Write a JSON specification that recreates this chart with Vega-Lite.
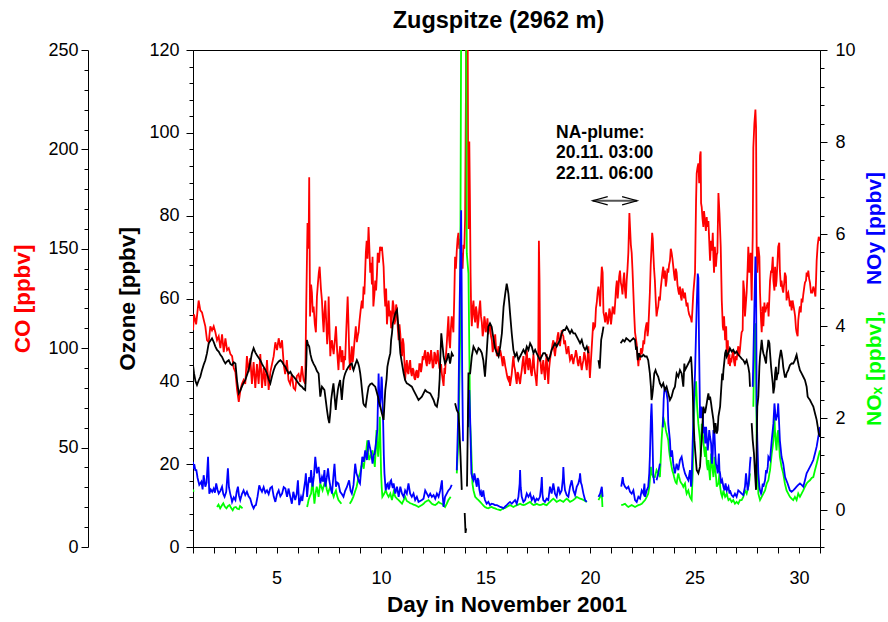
{
  "$schema": "https://vega.github.io/schema/vega-lite/v6.json",
  "width": 627,
  "height": 497,
  "autosize": {"type": "none"},
  "padding": {"left": 193, "top": 50, "right": 68, "bottom": 75},
  "config": {
    "font": "Liberation Sans",
    "view": {"stroke": "black", "strokeWidth": 1},
    "axis": {
      "grid": false,
      "domainColor": "black",
      "tickColor": "black",
      "labelColor": "black",
      "titleColor": "black",
      "labelFont": "Liberation Sans",
      "titleFont": "Liberation Sans",
      "labelFontSize": 18,
      "titleFontSize": 22.5,
      "titleFontWeight": "bold",
      "domainWidth": 1,
      "tickWidth": 1,
      "labelOverlap": false,
      "labelFlush": false
    }
  },
  "title": {
    "text": "Zugspitze (2962 m)",
    "font": "Liberation Sans",
    "fontSize": 23.5,
    "fontWeight": "bold",
    "color": "black",
    "anchor": "middle",
    "frame": "group",
    "dx": -8,
    "dy": 31,
    "offset": 21,
    "baseline": "alphabetic"
  },
  "datasets": {
    "co": [
      {"d":1.00,"v":109},{"d":1.05,"v":117},{"d":1.15,"v":112},{"d":1.27,"v":124},{"d":1.35,"v":119},{"d":1.43,"v":118},{"d":1.52,"v":114},{"d":1.59,"v":111},{"d":1.67,"v":104},{"d":1.75,"v":103},{"d":1.83,"v":111},{"d":1.91,"v":109},{"d":1.99,"v":111},{"d":2.07,"v":108},{"d":2.15,"v":104},{"d":2.23,"v":106},{"d":2.31,"v":100},{"d":2.39,"v":107},{"d":2.47,"v":98},{"d":2.55,"v":105},{"d":2.63,"v":99},{"d":2.71,"v":100},{"d":2.79,"v":97},{"d":2.87,"v":96},{"d":2.95,"v":90},{"d":3.03,"v":88},{"d":3.11,"v":79},{"d":3.19,"v":73},{"d":3.27,"v":79},{"d":3.34,"v":82},{"d":3.42,"v":84},{"d":3.50,"v":82},{"d":3.58,"v":96},{"d":3.66,"v":88},{"d":3.74,"v":95},{"d":3.82,"v":82},{"d":3.90,"v":93},{"d":3.98,"v":80},{"d":4.06,"v":92},{"d":4.14,"v":82},{"d":4.22,"v":97},{"d":4.30,"v":80},{"d":4.38,"v":90},{"d":4.46,"v":81},{"d":4.54,"v":94},{"d":4.62,"v":79},{"d":4.70,"v":88},{"d":4.78,"v":92},{"d":4.86,"v":96},{"d":4.94,"v":103},{"d":5.02,"v":99},{"d":5.10,"v":105},{"d":5.18,"v":100},{"d":5.26,"v":104},{"d":5.34,"v":92},{"d":5.41,"v":87},{"d":5.49,"v":94},{"d":5.57,"v":84},{"d":5.65,"v":82},{"d":5.73,"v":87},{"d":5.81,"v":80},{"d":5.89,"v":79},{"d":5.97,"v":86},{"d":6.05,"v":87},{"d":6.13,"v":83},{"d":6.21,"v":91},{"d":6.29,"v":84},{"d":6.37,"v":82},{"d":6.42,"v":123},{"d":6.48,"v":163},{"d":6.53,"v":150},{"d":6.56,"v":186},{"d":6.60,"v":116},{"d":6.65,"v":132},{"d":6.69,"v":128},{"d":6.73,"v":118},{"d":6.77,"v":121},{"d":6.83,"v":112},{"d":6.88,"v":108},{"d":6.93,"v":126},{"d":6.98,"v":133},{"d":7.02,"v":138},{"d":7.06,"v":141},{"d":7.12,"v":130},{"d":7.17,"v":124},{"d":7.21,"v":115},{"d":7.25,"v":108},{"d":7.29,"v":118},{"d":7.33,"v":124},{"d":7.38,"v":112},{"d":7.42,"v":102},{"d":7.46,"v":109},{"d":7.49,"v":126},{"d":7.53,"v":110},{"d":7.57,"v":96},{"d":7.61,"v":102},{"d":7.65,"v":104},{"d":7.69,"v":100},{"d":7.73,"v":97},{"d":7.78,"v":103},{"d":7.84,"v":111},{"d":7.90,"v":98},{"d":7.96,"v":89},{"d":8.00,"v":97},{"d":8.04,"v":101},{"d":8.10,"v":93},{"d":8.15,"v":99},{"d":8.20,"v":89},{"d":8.24,"v":96},{"d":8.28,"v":94},{"d":8.33,"v":108},{"d":8.40,"v":126},{"d":8.44,"v":112},{"d":8.48,"v":95},{"d":8.52,"v":89},{"d":8.56,"v":96},{"d":8.60,"v":101},{"d":8.64,"v":93},{"d":8.68,"v":97},{"d":8.73,"v":104},{"d":8.79,"v":111},{"d":8.84,"v":103},{"d":8.88,"v":106},{"d":8.92,"v":108},{"d":8.97,"v":114},{"d":9.02,"v":119},{"d":9.08,"v":124},{"d":9.12,"v":120},{"d":9.16,"v":131},{"d":9.20,"v":127},{"d":9.23,"v":136},{"d":9.27,"v":148},{"d":9.31,"v":154},{"d":9.35,"v":145},{"d":9.40,"v":161},{"d":9.44,"v":150},{"d":9.48,"v":138},{"d":9.52,"v":143},{"d":9.56,"v":132},{"d":9.59,"v":146},{"d":9.63,"v":121},{"d":9.68,"v":127},{"d":9.72,"v":134},{"d":9.76,"v":129},{"d":9.80,"v":137},{"d":9.84,"v":148},{"d":9.90,"v":143},{"d":9.95,"v":151},{"d":10.00,"v":149},{"d":10.04,"v":151},{"d":10.08,"v":146},{"d":10.12,"v":141},{"d":10.16,"v":128},{"d":10.20,"v":121},{"d":10.24,"v":130},{"d":10.28,"v":112},{"d":10.32,"v":118},{"d":10.36,"v":124},{"d":10.40,"v":116},{"d":10.44,"v":119},{"d":10.48,"v":110},{"d":10.52,"v":116},{"d":10.56,"v":124},{"d":10.60,"v":121},{"d":10.64,"v":112},{"d":10.68,"v":114},{"d":10.72,"v":122},{"d":10.76,"v":119},{"d":10.80,"v":110},{"d":10.84,"v":104},{"d":10.88,"v":112},{"d":10.92,"v":107},{"d":10.96,"v":100},{"d":11.00,"v":96},{"d":11.04,"v":105},{"d":11.08,"v":102},{"d":11.12,"v":92},{"d":11.15,"v":84},{"d":11.19,"v":90},{"d":11.23,"v":94},{"d":11.27,"v":88},{"d":11.31,"v":87},{"d":11.35,"v":92},{"d":11.39,"v":94},{"d":11.43,"v":88},{"d":11.47,"v":86},{"d":11.51,"v":90},{"d":11.55,"v":89},{"d":11.59,"v":85},{"d":11.63,"v":84},{"d":11.67,"v":88},{"d":11.71,"v":89},{"d":11.75,"v":85},{"d":11.79,"v":86},{"d":11.83,"v":92},{"d":11.87,"v":92},{"d":11.91,"v":88},{"d":11.95,"v":91},{"d":11.99,"v":96},{"d":12.03,"v":94},{"d":12.07,"v":97},{"d":12.11,"v":99},{"d":12.15,"v":93},{"d":12.19,"v":91},{"d":12.23,"v":98},{"d":12.27,"v":97},{"d":12.31,"v":92},{"d":12.35,"v":94},{"d":12.39,"v":99},{"d":12.43,"v":95},{"d":12.47,"v":90},{"d":12.51,"v":91},{"d":12.55,"v":98},{"d":12.59,"v":97},{"d":12.63,"v":92},{"d":12.67,"v":94},{"d":12.71,"v":99},{"d":12.75,"v":94},{"d":12.79,"v":90},{"d":12.83,"v":89},{"d":12.87,"v":92},{"d":12.91,"v":87},{"d":12.95,"v":84},{"d":12.99,"v":81},{"d":13.03,"v":90},{"d":13.06,"v":87},{"d":13.10,"v":96},{"d":13.14,"v":102},{"d":13.18,"v":109},{"d":13.22,"v":116},{"d":13.26,"v":104},{"d":13.30,"v":100},{"d":13.34,"v":110},{"d":13.38,"v":116},{"d":13.42,"v":112},{"d":13.46,"v":108},{"d":13.50,"v":125},{"d":13.54,"v":146},{"d":13.58,"v":140},{"d":13.62,"v":149},{"d":13.66,"v":155},{"d":13.70,"v":158},{"d":13.74,"v":150},{"d":13.78,"v":155},{"d":13.82,"v":146},{"d":13.86,"v":148},{"d":13.90,"v":140},{"d":13.94,"v":152},{"d":13.98,"v":150},{"d":14.02,"v":165},{"d":14.06,"v":230},{"d":14.08,"v":300},{"d":14.13,"v":300},{"d":14.16,"v":200},{"d":14.19,"v":160},{"d":14.22,"v":204},{"d":14.25,"v":175},{"d":14.28,"v":138},{"d":14.31,"v":118},{"d":14.34,"v":111},{"d":14.38,"v":120},{"d":14.42,"v":124},{"d":14.46,"v":116},{"d":14.50,"v":113},{"d":14.54,"v":121},{"d":14.58,"v":118},{"d":14.62,"v":110},{"d":14.66,"v":114},{"d":14.70,"v":120},{"d":14.74,"v":124},{"d":14.78,"v":116},{"d":14.82,"v":113},{"d":14.86,"v":106},{"d":14.90,"v":109},{"d":14.94,"v":116},{"d":14.97,"v":114},{"d":15.01,"v":108},{"d":15.05,"v":111},{"d":15.09,"v":115},{"d":15.13,"v":107},{"d":15.17,"v":110},{"d":15.22,"v":112},{"d":15.26,"v":106},{"d":15.30,"v":104},{"d":15.34,"v":98},{"d":15.38,"v":101},{"d":15.42,"v":104},{"d":15.46,"v":107},{"d":15.50,"v":100},{"d":15.54,"v":96},{"d":15.58,"v":98},{"d":15.62,"v":101},{"d":15.66,"v":96},{"d":15.70,"v":99},{"d":15.74,"v":97},{"d":15.78,"v":94},{"d":15.82,"v":91},{"d":15.86,"v":96},{"d":15.90,"v":94},{"d":15.94,"v":91},{"d":15.98,"v":89},{"d":16.01,"v":87},{"d":16.05,"v":85},{"d":16.09,"v":84},{"d":16.13,"v":86},{"d":16.17,"v":81},{"d":16.21,"v":84},{"d":16.25,"v":87},{"d":16.29,"v":92},{"d":16.33,"v":96},{"d":16.37,"v":91},{"d":16.41,"v":89},{"d":16.45,"v":85},{"d":16.49,"v":82},{"d":16.53,"v":88},{"d":16.57,"v":87},{"d":16.61,"v":84},{"d":16.65,"v":82},{"d":16.69,"v":86},{"d":16.73,"v":89},{"d":16.77,"v":93},{"d":16.81,"v":96},{"d":16.85,"v":90},{"d":16.89,"v":87},{"d":16.93,"v":94},{"d":16.97,"v":99},{"d":17.01,"v":92},{"d":17.05,"v":89},{"d":17.09,"v":95},{"d":17.13,"v":94},{"d":17.17,"v":88},{"d":17.21,"v":86},{"d":17.25,"v":92},{"d":17.29,"v":97},{"d":17.33,"v":90},{"d":17.37,"v":87},{"d":17.41,"v":84},{"d":17.44,"v":81},{"d":17.48,"v":90},{"d":17.52,"v":97},{"d":17.55,"v":154},{"d":17.58,"v":134},{"d":17.61,"v":96},{"d":17.65,"v":90},{"d":17.68,"v":87},{"d":17.72,"v":91},{"d":17.76,"v":94},{"d":17.80,"v":88},{"d":17.84,"v":84},{"d":17.88,"v":92},{"d":17.92,"v":97},{"d":17.96,"v":88},{"d":18.00,"v":82},{"d":18.04,"v":90},{"d":18.08,"v":94},{"d":18.12,"v":97},{"d":18.16,"v":99},{"d":18.20,"v":102},{"d":18.24,"v":104},{"d":18.28,"v":99},{"d":18.32,"v":96},{"d":18.36,"v":100},{"d":18.40,"v":102},{"d":18.44,"v":106},{"d":18.48,"v":108},{"d":18.52,"v":104},{"d":18.56,"v":101},{"d":18.60,"v":105},{"d":18.64,"v":109},{"d":18.68,"v":107},{"d":18.72,"v":106},{"d":18.76,"v":102},{"d":18.80,"v":104},{"d":18.84,"v":100},{"d":18.88,"v":97},{"d":18.92,"v":99},{"d":18.96,"v":101},{"d":19.00,"v":97},{"d":19.04,"v":94},{"d":19.08,"v":95},{"d":19.12,"v":97},{"d":19.16,"v":94},{"d":19.20,"v":92},{"d":19.24,"v":95},{"d":19.28,"v":96},{"d":19.32,"v":99},{"d":19.36,"v":97},{"d":19.40,"v":93},{"d":19.44,"v":91},{"d":19.48,"v":94},{"d":19.52,"v":96},{"d":19.56,"v":92},{"d":19.60,"v":89},{"d":19.64,"v":92},{"d":19.68,"v":94},{"d":19.72,"v":98},{"d":19.76,"v":96},{"d":19.80,"v":92},{"d":19.84,"v":89},{"d":19.88,"v":95},{"d":19.92,"v":101},{"d":19.96,"v":92},{"d":19.99,"v":85},{"d":20.03,"v":92},{"d":20.07,"v":99},{"d":20.11,"v":106},{"d":20.15,"v":113},{"d":20.19,"v":110},{"d":20.24,"v":111},{"d":20.28,"v":120},{"d":20.32,"v":123},{"d":20.36,"v":128},{"d":20.40,"v":131},{"d":20.44,"v":127},{"d":20.48,"v":121},{"d":20.52,"v":132},{"d":20.56,"v":141},{"d":20.60,"v":138},{"d":20.64,"v":118},{"d":20.68,"v":116},{"d":20.72,"v":113},{"d":20.76,"v":118},{"d":20.80,"v":116},{"d":20.84,"v":112},{"d":20.88,"v":114},{"d":20.92,"v":120},{"d":20.96,"v":118},{"d":21.00,"v":112},{"d":21.04,"v":116},{"d":21.08,"v":121},{"d":21.12,"v":119},{"d":21.16,"v":117},{"d":21.20,"v":123},{"d":21.24,"v":130},{"d":21.28,"v":134},{"d":21.32,"v":125},{"d":21.35,"v":129},{"d":21.39,"v":136},{"d":21.43,"v":139},{"d":21.47,"v":133},{"d":21.51,"v":131},{"d":21.55,"v":127},{"d":21.59,"v":134},{"d":21.63,"v":138},{"d":21.67,"v":129},{"d":21.71,"v":125},{"d":21.75,"v":134},{"d":21.79,"v":140},{"d":21.83,"v":148},{"d":21.86,"v":160},{"d":21.88,"v":168},{"d":21.91,"v":161},{"d":21.95,"v":152},{"d":21.99,"v":148},{"d":22.03,"v":139},{"d":22.07,"v":128},{"d":22.11,"v":117},{"d":22.15,"v":108},{"d":22.19,"v":105},{"d":22.23,"v":102},{"d":22.27,"v":96},{"d":22.31,"v":91},{"d":22.35,"v":97},{"d":22.39,"v":94},{"d":22.43,"v":100},{"d":22.47,"v":97},{"d":22.51,"v":99},{"d":22.55,"v":104},{"d":22.59,"v":102},{"d":22.63,"v":108},{"d":22.67,"v":111},{"d":22.71,"v":113},{"d":22.75,"v":106},{"d":22.78,"v":109},{"d":22.82,"v":118},{"d":22.86,"v":128},{"d":22.90,"v":142},{"d":22.94,"v":151},{"d":22.97,"v":158},{"d":23.00,"v":155},{"d":23.02,"v":149},{"d":23.06,"v":140},{"d":23.10,"v":134},{"d":23.14,"v":124},{"d":23.18,"v":116},{"d":23.22,"v":119},{"d":23.26,"v":121},{"d":23.30,"v":126},{"d":23.34,"v":124},{"d":23.38,"v":130},{"d":23.42,"v":134},{"d":23.46,"v":138},{"d":23.50,"v":141},{"d":23.54,"v":135},{"d":23.58,"v":139},{"d":23.62,"v":131},{"d":23.66,"v":134},{"d":23.70,"v":140},{"d":23.74,"v":138},{"d":23.78,"v":142},{"d":23.82,"v":144},{"d":23.86,"v":150},{"d":23.90,"v":148},{"d":23.94,"v":145},{"d":23.98,"v":141},{"d":24.02,"v":137},{"d":24.06,"v":134},{"d":24.10,"v":140},{"d":24.14,"v":138},{"d":24.18,"v":132},{"d":24.22,"v":129},{"d":24.26,"v":127},{"d":24.30,"v":131},{"d":24.34,"v":126},{"d":24.38,"v":124},{"d":24.42,"v":130},{"d":24.46,"v":128},{"d":24.50,"v":125},{"d":24.54,"v":128},{"d":24.58,"v":124},{"d":24.62,"v":121},{"d":24.66,"v":123},{"d":24.70,"v":119},{"d":24.74,"v":117},{"d":24.78,"v":116},{"d":24.82,"v":115},{"d":24.86,"v":113},{"d":24.90,"v":120},{"d":24.94,"v":128},{"d":24.98,"v":133},{"d":25.02,"v":138},{"d":25.05,"v":160},{"d":25.07,"v":174},{"d":25.10,"v":188},{"d":25.14,"v":191},{"d":25.18,"v":193},{"d":25.22,"v":183},{"d":25.26,"v":197},{"d":25.29,"v":199},{"d":25.31,"v":173},{"d":25.34,"v":171},{"d":25.38,"v":165},{"d":25.42,"v":161},{"d":25.45,"v":169},{"d":25.50,"v":164},{"d":25.54,"v":159},{"d":25.58,"v":166},{"d":25.61,"v":161},{"d":25.66,"v":164},{"d":25.70,"v":154},{"d":25.74,"v":144},{"d":25.79,"v":154},{"d":25.83,"v":149},{"d":25.87,"v":158},{"d":25.90,"v":146},{"d":25.93,"v":138},{"d":25.97,"v":151},{"d":26.02,"v":141},{"d":26.06,"v":147},{"d":26.09,"v":148},{"d":26.14,"v":178},{"d":26.19,"v":168},{"d":26.25,"v":151},{"d":26.30,"v":124},{"d":26.35,"v":111},{"d":26.38,"v":109},{"d":26.41,"v":116},{"d":26.46,"v":104},{"d":26.51,"v":111},{"d":26.54,"v":96},{"d":26.59,"v":104},{"d":26.62,"v":92},{"d":26.67,"v":97},{"d":26.69,"v":91},{"d":26.73,"v":95},{"d":26.77,"v":94},{"d":26.81,"v":97},{"d":26.85,"v":99},{"d":26.89,"v":93},{"d":26.93,"v":91},{"d":26.97,"v":96},{"d":27.01,"v":94},{"d":27.05,"v":98},{"d":27.09,"v":101},{"d":27.13,"v":96},{"d":27.17,"v":99},{"d":27.21,"v":104},{"d":27.25,"v":108},{"d":27.30,"v":109},{"d":27.33,"v":134},{"d":27.38,"v":128},{"d":27.41,"v":116},{"d":27.45,"v":122},{"d":27.49,"v":128},{"d":27.54,"v":141},{"d":27.57,"v":151},{"d":27.62,"v":138},{"d":27.65,"v":141},{"d":27.68,"v":148},{"d":27.73,"v":124},{"d":27.78,"v":156},{"d":27.81,"v":201},{"d":27.86,"v":213},{"d":27.91,"v":220},{"d":27.94,"v":211},{"d":27.97,"v":151},{"d":28.00,"v":138},{"d":28.05,"v":151},{"d":28.10,"v":146},{"d":28.13,"v":128},{"d":28.18,"v":114},{"d":28.21,"v":108},{"d":28.26,"v":121},{"d":28.29,"v":111},{"d":28.34,"v":123},{"d":28.38,"v":118},{"d":28.42,"v":120},{"d":28.45,"v":121},{"d":28.50,"v":123},{"d":28.54,"v":116},{"d":28.58,"v":126},{"d":28.61,"v":134},{"d":28.66,"v":139},{"d":28.69,"v":138},{"d":28.74,"v":146},{"d":28.77,"v":134},{"d":28.82,"v":129},{"d":28.85,"v":141},{"d":28.89,"v":131},{"d":28.92,"v":134},{"d":28.97,"v":144},{"d":29.00,"v":151},{"d":29.05,"v":153},{"d":29.08,"v":139},{"d":29.13,"v":131},{"d":29.16,"v":134},{"d":29.20,"v":130},{"d":29.24,"v":128},{"d":29.29,"v":133},{"d":29.32,"v":138},{"d":29.37,"v":136},{"d":29.40,"v":124},{"d":29.44,"v":127},{"d":29.48,"v":128},{"d":29.52,"v":125},{"d":29.56,"v":121},{"d":29.60,"v":124},{"d":29.64,"v":119},{"d":29.69,"v":124},{"d":29.72,"v":122},{"d":29.77,"v":119},{"d":29.81,"v":116},{"d":29.85,"v":110},{"d":29.88,"v":108},{"d":29.93,"v":106},{"d":29.96,"v":114},{"d":30.01,"v":119},{"d":30.04,"v":121},{"d":30.08,"v":118},{"d":30.12,"v":125},{"d":30.16,"v":123},{"d":30.20,"v":127},{"d":30.25,"v":131},{"d":30.28,"v":133},{"d":30.33,"v":134},{"d":30.36,"v":138},{"d":30.41,"v":136},{"d":30.44,"v":139},{"d":30.48,"v":135},{"d":30.52,"v":133},{"d":30.57,"v":128},{"d":30.63,"v":128},{"d":30.68,"v":131},{"d":30.73,"v":129},{"d":30.78,"v":126},{"d":30.81,"v":134},{"d":30.84,"v":144},{"d":30.89,"v":152},{"d":30.94,"v":156},{"d":31.00,"v":154}
    ],
    "o3": [
      {"d":1.00,"v":43.9},{"d":1.05,"v":41.9},{"d":1.12,"v":40.0},{"d":1.19,"v":39.1},{"d":1.27,"v":40.2},{"d":1.35,"v":41.1},{"d":1.43,"v":42.7},{"d":1.51,"v":44.0},{"d":1.59,"v":45.1},{"d":1.67,"v":46.8},{"d":1.75,"v":49.2},{"d":1.83,"v":49.8},{"d":1.91,"v":50.4},{"d":1.99,"v":49.5},{"d":2.07,"v":48.4},{"d":2.15,"v":47.6},{"d":2.23,"v":47.2},{"d":2.31,"v":46.4},{"d":2.39,"v":45.9},{"d":2.47,"v":45.0},{"d":2.55,"v":44.3},{"d":2.63,"v":44.8},{"d":2.71,"v":45.1},{"d":2.79,"v":44.2},{"d":2.87,"v":43.9},{"d":2.95,"v":44.6},{"d":3.03,"v":44.3},{"d":3.11,"v":40.0},{"d":3.19,"v":37.1},{"d":3.27,"v":37.8},{"d":3.34,"v":38.7},{"d":3.42,"v":39.6},{"d":3.50,"v":40.3},{"d":3.58,"v":41.5},{"d":3.66,"v":42.7},{"d":3.74,"v":44.6},{"d":3.82,"v":46.8},{"d":3.90,"v":48.0},{"d":3.98,"v":47.0},{"d":4.06,"v":46.3},{"d":4.14,"v":45.7},{"d":4.22,"v":45.1},{"d":4.30,"v":44.2},{"d":4.38,"v":43.5},{"d":4.46,"v":42.8},{"d":4.54,"v":41.9},{"d":4.62,"v":40.5},{"d":4.70,"v":39.5},{"d":4.78,"v":41.2},{"d":4.86,"v":42.7},{"d":4.94,"v":43.8},{"d":5.02,"v":44.3},{"d":5.10,"v":44.8},{"d":5.18,"v":45.1},{"d":5.26,"v":44.7},{"d":5.34,"v":44.0},{"d":5.42,"v":43.5},{"d":5.50,"v":42.6},{"d":5.58,"v":41.9},{"d":5.66,"v":42.3},{"d":5.74,"v":41.5},{"d":5.82,"v":41.1},{"d":5.90,"v":40.6},{"d":5.98,"v":40.0},{"d":6.05,"v":39.5},{"d":6.13,"v":39.0},{"d":6.21,"v":38.7},{"d":6.29,"v":38.2},{"d":6.37,"v":37.9},{"d":6.42,"v":44.0},{"d":6.45,"v":50.0},{"d":6.50,"v":49.0},{"d":6.56,"v":48.4},{"d":6.62,"v":46.5},{"d":6.69,"v":45.1},{"d":6.77,"v":44.2},{"d":6.85,"v":43.5},{"d":6.93,"v":42.5},{"d":7.01,"v":41.9},{"d":7.09,"v":36.3},{"d":7.17,"v":38.7},{"d":7.23,"v":38.3},{"d":7.29,"v":37.9},{"d":7.35,"v":35.5},{"d":7.41,"v":33.1},{"d":7.47,"v":31.0},{"d":7.52,"v":29.9},{"d":7.57,"v":32.5},{"d":7.61,"v":35.5},{"d":7.67,"v":37.8},{"d":7.72,"v":39.5},{"d":7.78,"v":36.0},{"d":7.83,"v":33.1},{"d":7.88,"v":35.8},{"d":7.93,"v":37.9},{"d":7.98,"v":39.2},{"d":8.04,"v":40.3},{"d":8.08,"v":37.9},{"d":8.12,"v":35.5},{"d":8.16,"v":38.0},{"d":8.20,"v":40.3},{"d":8.24,"v":41.2},{"d":8.28,"v":41.9},{"d":8.36,"v":42.8},{"d":8.44,"v":43.5},{"d":8.52,"v":44.0},{"d":8.60,"v":44.3},{"d":8.64,"v":43.3},{"d":8.68,"v":42.7},{"d":8.76,"v":44.0},{"d":8.84,"v":45.1},{"d":8.90,"v":44.4},{"d":8.95,"v":43.5},{"d":9.00,"v":42.0},{"d":9.04,"v":40.3},{"d":9.10,"v":37.2},{"d":9.15,"v":34.7},{"d":9.20,"v":34.2},{"d":9.26,"v":33.9},{"d":9.33,"v":36.5},{"d":9.40,"v":38.7},{"d":9.48,"v":39.3},{"d":9.56,"v":39.5},{"d":9.64,"v":39.1},{"d":9.72,"v":38.7},{"d":9.78,"v":37.6},{"d":9.85,"v":36.3},{"d":9.90,"v":35.0},{"d":9.96,"v":33.9},{"d":10.04,"v":32.2},{"d":10.12,"v":30.7},{"d":10.16,"v":34.5},{"d":10.20,"v":37.9},{"d":10.26,"v":40.5},{"d":10.30,"v":43.5},{"d":10.36,"v":45.1},{"d":10.44,"v":46.8},{"d":10.48,"v":50.0},{"d":10.52,"v":51.6},{"d":10.56,"v":54.0},{"d":10.62,"v":55.2},{"d":10.68,"v":56.4},{"d":10.76,"v":57.2},{"d":10.84,"v":52.4},{"d":10.92,"v":46.8},{"d":11.00,"v":44.3},{"d":11.08,"v":41.9},{"d":11.15,"v":40.3},{"d":11.23,"v":39.5},{"d":11.31,"v":39.3},{"d":11.39,"v":39.0},{"d":11.47,"v":38.7},{"d":11.55,"v":37.9},{"d":11.63,"v":37.1},{"d":11.71,"v":36.3},{"d":11.79,"v":35.5},{"d":11.87,"v":35.9},{"d":11.95,"v":36.3},{"d":12.03,"v":37.1},{"d":12.11,"v":37.9},{"d":12.19,"v":37.5},{"d":12.27,"v":37.3},{"d":12.35,"v":37.1},{"d":12.43,"v":36.3},{"d":12.51,"v":35.5},{"d":12.59,"v":34.3},{"d":12.67,"v":33.9},{"d":12.75,"v":36.3},{"d":12.80,"v":40.5},{"d":12.83,"v":45.1},{"d":12.88,"v":51.6},{"d":12.91,"v":50.0},{"d":12.95,"v":48.0},{"d":12.99,"v":46.0},{"d":13.06,"v":44.3},{"d":13.14,"v":45.1},{"d":13.22,"v":46.8},{"d":13.30,"v":44.3},{"d":13.38,"v":46.8},{"d":13.46,"v":46.0},{"d":13.50,"v":null},{"d":13.54,"v":34.7},{"d":13.62,"v":33.1},{"d":13.70,"v":32.3},{"d":13.73,"v":29.9},{"d":13.80,"v":22.0},{"d":13.86,"v":13.8},{"d":13.93,"v":null},{"d":14.00,"v":8.2},{"d":14.04,"v":3.4},{"d":14.07,"v":4.5},{"d":14.09,"v":null},{"d":14.11,"v":14.6},{"d":14.15,"v":30.0},{"d":14.18,"v":41.9},{"d":14.26,"v":41.9},{"d":14.34,"v":46.0},{"d":14.42,"v":48.4},{"d":14.50,"v":47.6},{"d":14.58,"v":46.8},{"d":14.66,"v":48.0},{"d":14.74,"v":47.6},{"d":14.82,"v":46.8},{"d":14.89,"v":45.1},{"d":14.97,"v":41.1},{"d":15.05,"v":46.8},{"d":15.13,"v":53.2},{"d":15.21,"v":54.0},{"d":15.29,"v":53.2},{"d":15.37,"v":50.5},{"d":15.45,"v":48.0},{"d":15.54,"v":46.8},{"d":15.62,"v":46.0},{"d":15.70,"v":48.4},{"d":15.78,"v":51.6},{"d":15.86,"v":58.0},{"d":15.94,"v":61.2},{"d":16.01,"v":63.6},{"d":16.05,"v":62.5},{"d":16.09,"v":61.2},{"d":16.13,"v":59.0},{"d":16.17,"v":56.4},{"d":16.25,"v":51.6},{"d":16.33,"v":47.6},{"d":16.41,"v":46.0},{"d":16.49,"v":46.8},{"d":16.57,"v":45.1},{"d":16.65,"v":46.0},{"d":16.73,"v":46.8},{"d":16.81,"v":47.6},{"d":16.89,"v":46.8},{"d":16.97,"v":48.4},{"d":17.05,"v":47.6},{"d":17.13,"v":49.2},{"d":17.21,"v":48.4},{"d":17.29,"v":46.8},{"d":17.37,"v":47.6},{"d":17.44,"v":46.8},{"d":17.52,"v":46.0},{"d":17.60,"v":45.1},{"d":17.68,"v":46.0},{"d":17.76,"v":46.8},{"d":17.84,"v":46.8},{"d":17.92,"v":46.0},{"d":18.00,"v":45.1},{"d":18.08,"v":46.0},{"d":18.16,"v":47.6},{"d":18.24,"v":48.4},{"d":18.32,"v":49.2},{"d":18.40,"v":48.4},{"d":18.48,"v":49.2},{"d":18.56,"v":50.0},{"d":18.64,"v":51.6},{"d":18.72,"v":52.4},{"d":18.80,"v":52.4},{"d":18.88,"v":53.2},{"d":18.96,"v":52.4},{"d":19.04,"v":51.6},{"d":19.12,"v":52.4},{"d":19.20,"v":51.6},{"d":19.28,"v":51.6},{"d":19.36,"v":50.8},{"d":19.44,"v":50.0},{"d":19.52,"v":49.2},{"d":19.60,"v":50.0},{"d":19.68,"v":48.4},{"d":19.76,"v":47.6},{"d":19.84,"v":48.4},{"d":19.92,"v":46.8},{"d":19.96,"v":null},{"d":20.40,"v":45.1},{"d":20.46,"v":43.1},{"d":20.53,"v":50.0},{"d":20.59,"v":51.6},{"d":20.64,"v":53.2},{"d":20.70,"v":null},{"d":21.46,"v":49.2},{"d":21.57,"v":50.0},{"d":21.65,"v":49.6},{"d":21.73,"v":50.4},{"d":21.83,"v":50.0},{"d":21.91,"v":49.6},{"d":21.99,"v":50.0},{"d":22.07,"v":50.4},{"d":22.15,"v":50.0},{"d":22.20,"v":47.6},{"d":22.23,"v":48.4},{"d":22.28,"v":45.1},{"d":22.34,"v":46.8},{"d":22.39,"v":46.0},{"d":22.47,"v":46.0},{"d":22.55,"v":46.4},{"d":22.63,"v":46.0},{"d":22.71,"v":46.0},{"d":22.78,"v":45.1},{"d":22.86,"v":41.9},{"d":22.91,"v":38.7},{"d":22.94,"v":35.5},{"d":22.97,"v":36.3},{"d":23.02,"v":38.7},{"d":23.07,"v":41.9},{"d":23.13,"v":42.7},{"d":23.18,"v":41.9},{"d":23.26,"v":41.1},{"d":23.34,"v":39.5},{"d":23.42,"v":38.7},{"d":23.50,"v":39.5},{"d":23.58,"v":37.9},{"d":23.66,"v":38.7},{"d":23.74,"v":37.1},{"d":23.82,"v":35.5},{"d":23.90,"v":36.3},{"d":23.98,"v":37.9},{"d":24.06,"v":38.7},{"d":24.14,"v":41.9},{"d":24.22,"v":41.1},{"d":24.30,"v":42.7},{"d":24.38,"v":41.9},{"d":24.46,"v":38.7},{"d":24.51,"v":44.3},{"d":24.54,"v":42.7},{"d":24.62,"v":43.5},{"d":24.70,"v":44.3},{"d":24.78,"v":45.1},{"d":24.83,"v":46.0},{"d":24.86,"v":43.5},{"d":24.91,"v":37.9},{"d":24.94,"v":31.5},{"d":24.99,"v":25.8},{"d":25.05,"v":21.8},{"d":25.10,"v":18.6},{"d":25.18,"v":17.8},{"d":25.26,"v":19.4},{"d":25.30,"v":23.0},{"d":25.34,"v":25.8},{"d":25.38,"v":30.0},{"d":25.42,"v":33.9},{"d":25.46,"v":33.0},{"d":25.50,"v":32.3},{"d":25.54,"v":33.5},{"d":25.58,"v":34.7},{"d":25.62,"v":36.0},{"d":25.66,"v":37.1},{"d":25.70,"v":35.5},{"d":25.74,"v":36.3},{"d":25.79,"v":34.7},{"d":25.83,"v":33.1},{"d":25.90,"v":30.7},{"d":25.95,"v":27.4},{"d":26.00,"v":29.9},{"d":26.06,"v":27.4},{"d":26.10,"v":28.2},{"d":26.14,"v":31.5},{"d":26.22,"v":33.9},{"d":26.27,"v":37.9},{"d":26.32,"v":41.9},{"d":26.35,"v":40.3},{"d":26.38,"v":42.7},{"d":26.43,"v":45.1},{"d":26.46,"v":46.8},{"d":26.51,"v":47.6},{"d":26.54,"v":46.0},{"d":26.62,"v":46.8},{"d":26.67,"v":47.6},{"d":26.69,"v":48.0},{"d":26.77,"v":47.2},{"d":26.85,"v":47.6},{"d":26.93,"v":46.8},{"d":27.01,"v":47.2},{"d":27.09,"v":46.4},{"d":27.17,"v":46.0},{"d":27.25,"v":45.5},{"d":27.33,"v":45.1},{"d":27.41,"v":44.3},{"d":27.49,"v":45.1},{"d":27.57,"v":43.5},{"d":27.62,"v":41.9},{"d":27.65,"v":38.7},{"d":27.68,"v":null},{"d":27.73,"v":29.9},{"d":27.78,"v":25.8},{"d":27.84,"v":22.6},{"d":27.89,"v":17.8},{"d":27.94,"v":13.8},{"d":27.97,"v":24.2},{"d":28.00,"v":33.9},{"d":28.05,"v":36.3},{"d":28.10,"v":43.5},{"d":28.13,"v":46.0},{"d":28.18,"v":48.4},{"d":28.21,"v":50.0},{"d":28.26,"v":47.6},{"d":28.29,"v":46.8},{"d":28.34,"v":46.0},{"d":28.38,"v":45.1},{"d":28.42,"v":44.3},{"d":28.45,"v":46.8},{"d":28.50,"v":48.4},{"d":28.53,"v":50.0},{"d":28.58,"v":49.2},{"d":28.61,"v":46.8},{"d":28.66,"v":43.5},{"d":28.69,"v":41.9},{"d":28.74,"v":39.5},{"d":28.77,"v":37.1},{"d":28.82,"v":38.7},{"d":28.85,"v":41.9},{"d":28.89,"v":43.5},{"d":28.92,"v":40.3},{"d":28.97,"v":41.9},{"d":29.00,"v":41.9},{"d":29.05,"v":45.1},{"d":29.08,"v":46.0},{"d":29.13,"v":47.6},{"d":29.16,"v":46.8},{"d":29.21,"v":45.1},{"d":29.24,"v":43.5},{"d":29.29,"v":41.9},{"d":29.32,"v":41.1},{"d":29.37,"v":41.1},{"d":29.40,"v":41.9},{"d":29.48,"v":42.7},{"d":29.56,"v":43.9},{"d":29.64,"v":44.3},{"d":29.72,"v":44.3},{"d":29.80,"v":45.1},{"d":29.85,"v":46.0},{"d":29.88,"v":46.4},{"d":29.93,"v":45.1},{"d":29.98,"v":43.9},{"d":30.04,"v":42.7},{"d":30.12,"v":41.9},{"d":30.20,"v":41.1},{"d":30.28,"v":40.3},{"d":30.36,"v":38.7},{"d":30.41,"v":36.3},{"d":30.46,"v":35.9},{"d":30.52,"v":35.5},{"d":30.60,"v":34.7},{"d":30.68,"v":33.9},{"d":30.76,"v":32.3},{"d":30.84,"v":30.7},{"d":30.89,"v":29.1},{"d":30.94,"v":27.4},{"d":31.00,"v":26.6}
    ],
    "noy": [
      {"d":1.00,"v":1.05},{"d":1.03,"v":0.90},{"d":1.06,"v":1.00},{"d":1.11,"v":0.87},{"d":1.16,"v":0.87},{"d":1.22,"v":0.70},{"d":1.30,"v":0.55},{"d":1.40,"v":0.62},{"d":1.46,"v":0.45},{"d":1.51,"v":0.76},{"d":1.59,"v":0.51},{"d":1.65,"v":0.60},{"d":1.72,"v":1.16},{"d":1.78,"v":0.36},{"d":1.85,"v":0.45},{"d":1.92,"v":0.40},{"d":1.99,"v":0.47},{"d":2.05,"v":0.38},{"d":2.11,"v":0.58},{"d":2.17,"v":0.45},{"d":2.23,"v":0.36},{"d":2.31,"v":0.42},{"d":2.39,"v":0.51},{"d":2.45,"v":0.35},{"d":2.51,"v":0.29},{"d":2.59,"v":0.40},{"d":2.67,"v":0.91},{"d":2.72,"v":0.50},{"d":2.78,"v":0.36},{"d":2.84,"v":0.25},{"d":2.87,"v":0.18},{"d":2.95,"v":0.28},{"d":3.03,"v":0.22},{"d":3.09,"v":0.40},{"d":3.15,"v":0.51},{"d":3.20,"v":0.32},{"d":3.26,"v":0.22},{"d":3.34,"v":0.35},{"d":3.42,"v":0.43},{"d":3.50,"v":0.33},{"d":3.58,"v":0.40},{"d":3.66,"v":0.30},{"d":3.74,"v":0.25},{"d":3.82,"v":0.12},{"d":3.90,"v":0.04},{"d":3.96,"v":0.10},{"d":4.01,"v":0.11},{"d":4.09,"v":0.30},{"d":4.17,"v":0.54},{"d":4.24,"v":0.45},{"d":4.30,"v":0.40},{"d":4.38,"v":0.50},{"d":4.46,"v":0.38},{"d":4.54,"v":0.43},{"d":4.62,"v":0.35},{"d":4.70,"v":0.48},{"d":4.78,"v":0.51},{"d":4.86,"v":0.30},{"d":4.94,"v":0.18},{"d":5.02,"v":0.35},{"d":5.10,"v":0.43},{"d":5.18,"v":0.30},{"d":5.26,"v":0.36},{"d":5.34,"v":0.50},{"d":5.42,"v":0.47},{"d":5.50,"v":0.29},{"d":5.57,"v":0.47},{"d":5.65,"v":0.30},{"d":5.73,"v":0.14},{"d":5.80,"v":0.40},{"d":5.89,"v":0.22},{"d":5.96,"v":0.35},{"d":6.02,"v":0.65},{"d":6.08,"v":0.11},{"d":6.17,"v":0.29},{"d":6.23,"v":0.20},{"d":6.29,"v":0.40},{"d":6.37,"v":0.65},{"d":6.40,"v":0.80},{"d":6.46,"v":0.29},{"d":6.51,"v":0.55},{"d":6.56,"v":0.72},{"d":6.61,"v":0.60},{"d":6.65,"v":0.87},{"d":6.72,"v":0.51},{"d":6.79,"v":0.75},{"d":6.85,"v":1.16},{"d":6.93,"v":0.80},{"d":7.01,"v":0.94},{"d":7.09,"v":0.58},{"d":7.17,"v":0.72},{"d":7.23,"v":0.62},{"d":7.29,"v":0.87},{"d":7.33,"v":0.51},{"d":7.40,"v":0.70},{"d":7.46,"v":0.91},{"d":7.52,"v":0.65},{"d":7.58,"v":0.50},{"d":7.65,"v":0.36},{"d":7.71,"v":0.70},{"d":7.77,"v":1.01},{"d":7.84,"v":0.51},{"d":7.90,"v":0.60},{"d":7.96,"v":0.58},{"d":8.04,"v":0.40},{"d":8.12,"v":0.35},{"d":8.20,"v":0.29},{"d":8.28,"v":0.42},{"d":8.36,"v":0.50},{"d":8.47,"v":0.65},{"d":8.54,"v":0.42},{"d":8.60,"v":0.36},{"d":8.68,"v":0.55},{"d":8.76,"v":1.01},{"d":8.82,"v":0.80},{"d":8.88,"v":0.72},{"d":8.94,"v":0.62},{"d":8.99,"v":0.58},{"d":9.05,"v":0.90},{"d":9.10,"v":1.16},{"d":9.17,"v":1.05},{"d":9.24,"v":1.30},{"d":9.32,"v":1.09},{"d":9.40,"v":1.52},{"d":9.47,"v":1.35},{"d":9.53,"v":1.23},{"d":9.59,"v":1.01},{"d":9.65,"v":1.20},{"d":9.69,"v":1.23},{"d":9.75,"v":1.45},{"d":9.82,"v":1.74},{"d":9.85,"v":2.40},{"d":9.88,"v":2.97},{"d":9.92,"v":2.40},{"d":9.94,"v":2.25},{"d":9.97,"v":2.40},{"d":9.99,"v":2.54},{"d":10.02,"v":2.90},{"d":10.04,"v":2.83},{"d":10.07,"v":2.30},{"d":10.10,"v":1.88},{"d":10.13,"v":1.20},{"d":10.16,"v":0.80},{"d":10.22,"v":0.43},{"d":10.27,"v":0.55},{"d":10.32,"v":0.58},{"d":10.36,"v":0.45},{"d":10.40,"v":0.50},{"d":10.44,"v":0.62},{"d":10.48,"v":0.65},{"d":10.52,"v":0.55},{"d":10.56,"v":0.48},{"d":10.60,"v":0.58},{"d":10.68,"v":0.36},{"d":10.76,"v":0.51},{"d":10.84,"v":0.29},{"d":10.92,"v":0.51},{"d":11.00,"v":0.36},{"d":11.08,"v":0.29},{"d":11.15,"v":0.43},{"d":11.23,"v":0.36},{"d":11.31,"v":0.58},{"d":11.39,"v":0.36},{"d":11.47,"v":0.29},{"d":11.55,"v":0.36},{"d":11.63,"v":0.22},{"d":11.71,"v":0.29},{"d":11.79,"v":0.18},{"d":11.87,"v":0.20},{"d":11.95,"v":0.22},{"d":12.03,"v":0.25},{"d":12.11,"v":0.43},{"d":12.19,"v":0.36},{"d":12.27,"v":0.29},{"d":12.35,"v":0.36},{"d":12.43,"v":0.29},{"d":12.51,"v":0.33},{"d":12.59,"v":0.25},{"d":12.67,"v":0.36},{"d":12.75,"v":0.29},{"d":12.83,"v":0.43},{"d":12.91,"v":0.65},{"d":12.95,"v":0.30},{"d":12.99,"v":0.07},{"d":13.06,"v":0.29},{"d":13.14,"v":0.36},{"d":13.22,"v":0.43},{"d":13.30,"v":0.47},{"d":13.38,"v":0.55},{"d":13.44,"v":null},{"d":13.62,"v":0.87},{"d":13.70,"v":2.25},{"d":13.76,"v":4.50},{"d":13.83,"v":6.52},{"d":13.86,"v":4.50},{"d":13.88,"v":3.00},{"d":13.92,"v":1.50},{"d":13.95,"v":null},{"d":14.16,"v":1.80},{"d":14.18,"v":2.25},{"d":14.22,"v":2.61},{"d":14.26,"v":2.00},{"d":14.32,"v":0.80},{"d":14.37,"v":0.70},{"d":14.42,"v":0.65},{"d":14.46,"v":0.80},{"d":14.50,"v":0.72},{"d":14.54,"v":0.60},{"d":14.58,"v":0.51},{"d":14.62,"v":0.70},{"d":14.66,"v":0.65},{"d":14.70,"v":0.45},{"d":14.74,"v":0.36},{"d":14.78,"v":0.40},{"d":14.82,"v":0.29},{"d":14.89,"v":0.43},{"d":14.93,"v":0.30},{"d":14.97,"v":0.22},{"d":15.05,"v":0.14},{"d":15.13,"v":0.18},{"d":15.21,"v":0.11},{"d":15.29,"v":0.14},{"d":15.37,"v":0.13},{"d":15.45,"v":0.11},{"d":15.54,"v":0.11},{"d":15.62,"v":0.09},{"d":15.70,"v":0.07},{"d":15.78,"v":0.06},{"d":15.86,"v":0.04},{"d":15.94,"v":0.08},{"d":16.01,"v":0.11},{"d":16.09,"v":0.15},{"d":16.17,"v":0.18},{"d":16.25,"v":0.14},{"d":16.33,"v":0.18},{"d":16.41,"v":0.22},{"d":16.49,"v":0.14},{"d":16.57,"v":0.29},{"d":16.63,"v":0.58},{"d":16.65,"v":0.87},{"d":16.68,"v":0.50},{"d":16.73,"v":0.29},{"d":16.81,"v":0.18},{"d":16.89,"v":0.22},{"d":16.97,"v":0.36},{"d":17.05,"v":0.29},{"d":17.13,"v":0.36},{"d":17.21,"v":0.22},{"d":17.29,"v":0.29},{"d":17.37,"v":0.18},{"d":17.44,"v":0.25},{"d":17.52,"v":0.22},{"d":17.60,"v":0.29},{"d":17.66,"v":0.51},{"d":17.69,"v":0.72},{"d":17.72,"v":0.35},{"d":17.76,"v":0.22},{"d":17.84,"v":0.18},{"d":17.92,"v":0.25},{"d":18.00,"v":0.22},{"d":18.08,"v":0.51},{"d":18.16,"v":0.36},{"d":18.24,"v":0.58},{"d":18.32,"v":0.36},{"d":18.40,"v":0.29},{"d":18.48,"v":0.51},{"d":18.56,"v":0.36},{"d":18.64,"v":0.43},{"d":18.70,"v":0.70},{"d":18.72,"v":0.94},{"d":18.76,"v":0.60},{"d":18.80,"v":0.43},{"d":18.88,"v":0.33},{"d":18.96,"v":0.29},{"d":19.04,"v":0.51},{"d":19.12,"v":0.65},{"d":19.20,"v":0.43},{"d":19.28,"v":0.33},{"d":19.36,"v":0.51},{"d":19.44,"v":0.58},{"d":19.50,"v":0.70},{"d":19.52,"v":0.80},{"d":19.56,"v":0.60},{"d":19.60,"v":0.55},{"d":19.68,"v":0.36},{"d":19.76,"v":0.22},{"d":19.84,"v":0.18},{"d":19.90,"v":null},{"d":20.40,"v":0.29},{"d":20.48,"v":0.36},{"d":20.56,"v":0.51},{"d":20.60,"v":0.29},{"d":20.65,"v":null},{"d":21.49,"v":0.51},{"d":21.56,"v":0.72},{"d":21.60,"v":0.58},{"d":21.67,"v":0.51},{"d":21.75,"v":0.47},{"d":21.83,"v":0.51},{"d":21.91,"v":0.40},{"d":21.99,"v":0.36},{"d":22.07,"v":0.43},{"d":22.15,"v":0.22},{"d":22.23,"v":0.18},{"d":22.31,"v":0.29},{"d":22.39,"v":0.25},{"d":22.47,"v":0.43},{"d":22.55,"v":0.36},{"d":22.60,"v":0.58},{"d":22.63,"v":0.29},{"d":22.71,"v":0.43},{"d":22.78,"v":0.51},{"d":22.83,"v":0.80},{"d":22.86,"v":1.16},{"d":22.91,"v":2.03},{"d":22.94,"v":2.32},{"d":22.97,"v":1.88},{"d":23.02,"v":0.80},{"d":23.07,"v":0.58},{"d":23.12,"v":null},{"d":23.18,"v":0.65},{"d":23.26,"v":0.80},{"d":23.34,"v":1.01},{"d":23.38,"v":null},{"d":23.48,"v":1.80},{"d":23.52,"v":2.40},{"d":23.55,"v":2.60},{"d":23.58,"v":2.68},{"d":23.62,"v":2.61},{"d":23.66,"v":2.54},{"d":23.71,"v":2.39},{"d":23.74,"v":1.88},{"d":23.78,"v":1.70},{"d":23.82,"v":1.52},{"d":23.86,"v":1.16},{"d":23.92,"v":1.30},{"d":23.98,"v":1.01},{"d":24.02,"v":0.90},{"d":24.06,"v":0.80},{"d":24.14,"v":1.01},{"d":24.22,"v":0.87},{"d":24.30,"v":1.09},{"d":24.38,"v":1.16},{"d":24.46,"v":0.94},{"d":24.54,"v":0.80},{"d":24.62,"v":0.72},{"d":24.70,"v":0.65},{"d":24.78,"v":0.87},{"d":24.83,"v":0.51},{"d":24.86,"v":0.65},{"d":24.91,"v":1.52},{"d":24.96,"v":2.25},{"d":25.02,"v":2.97},{"d":25.06,"v":3.70},{"d":25.10,"v":4.42},{"d":25.15,"v":5.14},{"d":25.18,"v":5.05},{"d":25.21,"v":3.70},{"d":25.26,"v":2.00},{"d":25.31,"v":2.25},{"d":25.34,"v":2.00},{"d":25.39,"v":2.23},{"d":25.42,"v":1.67},{"d":25.47,"v":1.81},{"d":25.51,"v":1.45},{"d":25.55,"v":1.81},{"d":25.58,"v":1.59},{"d":25.63,"v":1.30},{"d":25.66,"v":1.45},{"d":25.70,"v":1.74},{"d":25.74,"v":1.59},{"d":25.79,"v":1.45},{"d":25.83,"v":1.01},{"d":25.87,"v":1.23},{"d":25.90,"v":1.74},{"d":25.95,"v":1.67},{"d":25.99,"v":1.23},{"d":26.02,"v":1.01},{"d":26.06,"v":0.94},{"d":26.11,"v":0.80},{"d":26.16,"v":1.23},{"d":26.19,"v":0.87},{"d":26.22,"v":0.80},{"d":26.27,"v":0.58},{"d":26.32,"v":0.65},{"d":26.38,"v":0.51},{"d":26.43,"v":0.43},{"d":26.48,"v":0.58},{"d":26.54,"v":0.43},{"d":26.62,"v":0.51},{"d":26.67,"v":0.36},{"d":26.69,"v":0.43},{"d":26.77,"v":0.33},{"d":26.85,"v":0.29},{"d":26.93,"v":0.36},{"d":27.01,"v":0.29},{"d":27.09,"v":0.43},{"d":27.17,"v":0.40},{"d":27.25,"v":0.36},{"d":27.33,"v":0.33},{"d":27.41,"v":0.51},{"d":27.46,"v":0.80},{"d":27.49,"v":0.65},{"d":27.54,"v":0.43},{"d":27.59,"v":0.58},{"d":27.65,"v":1.01},{"d":27.68,"v":1.16},{"d":27.72,"v":null},{"d":27.78,"v":2.68},{"d":27.81,"v":3.26},{"d":27.86,"v":4.42},{"d":27.91,"v":5.51},{"d":27.94,"v":5.14},{"d":27.97,"v":2.25},{"d":28.00,"v":1.52},{"d":28.05,"v":0.80},{"d":28.10,"v":0.51},{"d":28.13,"v":0.43},{"d":28.18,"v":0.36},{"d":28.21,"v":0.40},{"d":28.26,"v":0.58},{"d":28.29,"v":0.51},{"d":28.37,"v":0.65},{"d":28.42,"v":0.87},{"d":28.45,"v":0.80},{"d":28.50,"v":0.94},{"d":28.53,"v":1.16},{"d":28.61,"v":1.09},{"d":28.69,"v":1.52},{"d":28.77,"v":1.88},{"d":28.82,"v":2.32},{"d":28.89,"v":1.95},{"d":28.97,"v":2.10},{"d":29.00,"v":2.32},{"d":29.08,"v":1.52},{"d":29.16,"v":1.16},{"d":29.24,"v":1.01},{"d":29.33,"v":0.72},{"d":29.45,"v":0.58},{"d":29.56,"v":0.43},{"d":29.64,"v":0.40},{"d":29.72,"v":0.43},{"d":29.80,"v":0.47},{"d":29.88,"v":0.51},{"d":29.96,"v":0.55},{"d":30.04,"v":0.58},{"d":30.12,"v":0.55},{"d":30.20,"v":0.51},{"d":30.28,"v":0.65},{"d":30.36,"v":0.80},{"d":30.44,"v":0.87},{"d":30.52,"v":0.94},{"d":30.60,"v":1.01},{"d":30.68,"v":1.09},{"d":30.76,"v":1.23},{"d":30.84,"v":1.38},{"d":30.92,"v":1.60},{"d":31.00,"v":1.81}
    ],
    "nox": [
      {"d":1.00,"v":0.45},{"d":1.03,"v":0.40},{"d":1.06,"v":null},{"d":2.15,"v":0.07},{"d":2.22,"v":0.12},{"d":2.30,"v":0.04},{"d":2.38,"v":0.10},{"d":2.45,"v":0.15},{"d":2.52,"v":0.08},{"d":2.60,"v":0.04},{"d":2.68,"v":0.09},{"d":2.75,"v":0.11},{"d":2.82,"v":0.05},{"d":2.90,"v":0.00},{"d":2.97,"v":0.06},{"d":3.05,"v":0.07},{"d":3.12,"v":0.03},{"d":3.20,"v":0.02},{"d":3.25,"v":0.09},{"d":3.30,"v":0.07},{"d":3.37,"v":0.04},{"d":3.42,"v":null},{"d":6.46,"v":0.07},{"d":6.50,"v":0.15},{"d":6.53,"v":0.22},{"d":6.59,"v":0.30},{"d":6.65,"v":0.36},{"d":6.72,"v":0.65},{"d":6.77,"v":0.35},{"d":6.81,"v":0.14},{"d":6.86,"v":0.35},{"d":6.92,"v":0.51},{"d":6.97,"v":0.40},{"d":7.01,"v":0.29},{"d":7.05,"v":0.45},{"d":7.09,"v":0.58},{"d":7.15,"v":0.50},{"d":7.20,"v":0.43},{"d":7.27,"v":0.55},{"d":7.33,"v":0.65},{"d":7.40,"v":0.45},{"d":7.46,"v":0.36},{"d":7.52,"v":0.45},{"d":7.57,"v":0.51},{"d":7.65,"v":0.40},{"d":7.73,"v":0.29},{"d":7.79,"v":0.38},{"d":7.84,"v":0.43},{"d":7.90,"v":0.30},{"d":7.96,"v":0.22},{"d":8.03,"v":0.18},{"d":8.10,"v":0.14},{"d":8.15,"v":null},{"d":8.50,"v":0.14},{"d":8.58,"v":0.20},{"d":8.67,"v":0.29},{"d":8.75,"v":0.40},{"d":8.83,"v":0.51},{"d":8.91,"v":0.70},{"d":8.99,"v":0.80},{"d":9.05,"v":0.95},{"d":9.11,"v":1.01},{"d":9.17,"v":0.90},{"d":9.23,"v":1.16},{"d":9.29,"v":1.30},{"d":9.34,"v":1.52},{"d":9.39,"v":1.25},{"d":9.43,"v":1.09},{"d":9.51,"v":1.20},{"d":9.59,"v":1.30},{"d":9.65,"v":1.10},{"d":9.70,"v":0.94},{"d":9.74,"v":1.30},{"d":9.78,"v":1.74},{"d":9.82,"v":1.40},{"d":9.86,"v":1.16},{"d":9.90,"v":1.50},{"d":9.94,"v":2.03},{"d":9.97,"v":1.40},{"d":10.00,"v":0.80},{"d":10.03,"v":0.50},{"d":10.06,"v":0.29},{"d":10.14,"v":0.35},{"d":10.22,"v":0.43},{"d":10.29,"v":0.35},{"d":10.36,"v":0.29},{"d":10.44,"v":0.36},{"d":10.52,"v":0.22},{"d":10.60,"v":0.40},{"d":10.68,"v":0.29},{"d":10.76,"v":0.25},{"d":10.84,"v":0.22},{"d":10.92,"v":0.18},{"d":11.00,"v":0.14},{"d":11.08,"v":0.22},{"d":11.15,"v":0.29},{"d":11.23,"v":0.20},{"d":11.31,"v":0.18},{"d":11.39,"v":0.15},{"d":11.47,"v":0.14},{"d":11.55,"v":0.12},{"d":11.63,"v":0.11},{"d":11.71,"v":0.09},{"d":11.79,"v":0.07},{"d":11.87,"v":0.09},{"d":11.95,"v":0.11},{"d":12.03,"v":0.14},{"d":12.11,"v":0.18},{"d":12.19,"v":0.20},{"d":12.27,"v":0.22},{"d":12.35,"v":0.18},{"d":12.43,"v":0.14},{"d":12.51,"v":0.12},{"d":12.59,"v":0.11},{"d":12.67,"v":0.14},{"d":12.75,"v":0.18},{"d":12.83,"v":0.15},{"d":12.91,"v":0.14},{"d":12.99,"v":0.10},{"d":13.06,"v":0.07},{"d":13.14,"v":0.14},{"d":13.22,"v":0.22},{"d":13.28,"v":0.26},{"d":13.33,"v":0.29},{"d":13.40,"v":null},{"d":13.62,"v":0.80},{"d":13.70,"v":1.52},{"d":13.78,"v":3.70},{"d":13.84,"v":12},{"d":13.92,"v":12},{"d":14.06,"v":12},{"d":14.10,"v":5.58},{"d":14.18,"v":5.14},{"d":14.26,"v":1.88},{"d":14.30,"v":1.52},{"d":14.37,"v":0.58},{"d":14.42,"v":0.43},{"d":14.50,"v":0.29},{"d":14.58,"v":0.25},{"d":14.66,"v":0.22},{"d":14.74,"v":0.18},{"d":14.82,"v":0.14},{"d":14.90,"v":0.10},{"d":14.97,"v":0.07},{"d":15.05,"v":0.05},{"d":15.13,"v":0.04},{"d":15.21,"v":0.06},{"d":15.29,"v":0.07},{"d":15.37,"v":0.05},{"d":15.45,"v":0.04},{"d":15.54,"v":0.02},{"d":15.62,"v":0.01},{"d":15.70,"v":0.00},{"d":15.78,"v":0.02},{"d":15.86,"v":0.04},{"d":15.94,"v":0.05},{"d":16.01,"v":0.07},{"d":16.09,"v":0.09},{"d":16.17,"v":0.11},{"d":16.25,"v":0.09},{"d":16.33,"v":0.07},{"d":16.41,"v":0.09},{"d":16.49,"v":0.11},{"d":16.57,"v":0.12},{"d":16.65,"v":0.14},{"d":16.73,"v":0.12},{"d":16.81,"v":0.11},{"d":16.89,"v":0.12},{"d":16.97,"v":0.14},{"d":17.05,"v":0.16},{"d":17.13,"v":0.18},{"d":17.21,"v":0.14},{"d":17.29,"v":0.11},{"d":17.37,"v":0.12},{"d":17.44,"v":0.14},{"d":17.52,"v":0.12},{"d":17.60,"v":0.11},{"d":17.68,"v":0.12},{"d":17.76,"v":0.14},{"d":17.84,"v":0.12},{"d":17.92,"v":0.11},{"d":18.00,"v":0.15},{"d":18.08,"v":0.18},{"d":18.16,"v":0.22},{"d":18.24,"v":0.25},{"d":18.32,"v":0.22},{"d":18.40,"v":0.18},{"d":18.48,"v":0.20},{"d":18.56,"v":0.22},{"d":18.64,"v":0.20},{"d":18.72,"v":0.18},{"d":18.80,"v":0.22},{"d":18.88,"v":0.25},{"d":18.96,"v":0.22},{"d":19.04,"v":0.18},{"d":19.12,"v":0.20},{"d":19.20,"v":0.22},{"d":19.28,"v":0.25},{"d":19.36,"v":0.29},{"d":19.44,"v":0.27},{"d":19.52,"v":0.25},{"d":19.60,"v":0.24},{"d":19.68,"v":0.22},{"d":19.76,"v":0.20},{"d":19.84,"v":0.18},{"d":19.90,"v":null},{"d":20.40,"v":0.22},{"d":20.48,"v":0.29},{"d":20.56,"v":0.36},{"d":20.59,"v":0.07},{"d":20.62,"v":null},{"d":21.49,"v":0.11},{"d":21.58,"v":0.12},{"d":21.67,"v":0.14},{"d":21.75,"v":0.10},{"d":21.83,"v":0.07},{"d":21.91,"v":0.09},{"d":21.99,"v":0.11},{"d":22.07,"v":0.09},{"d":22.15,"v":0.07},{"d":22.23,"v":0.09},{"d":22.31,"v":0.11},{"d":22.39,"v":0.12},{"d":22.47,"v":0.14},{"d":22.55,"v":0.18},{"d":22.63,"v":0.22},{"d":22.71,"v":0.29},{"d":22.78,"v":0.36},{"d":22.83,"v":0.50},{"d":22.86,"v":0.65},{"d":22.91,"v":0.94},{"d":22.94,"v":0.80},{"d":23.02,"v":0.72},{"d":23.10,"v":0.72},{"d":23.18,"v":0.87},{"d":23.26,"v":0.80},{"d":23.34,"v":0.72},{"d":23.38,"v":1.10},{"d":23.42,"v":1.52},{"d":23.46,"v":1.80},{"d":23.50,"v":2.03},{"d":23.54,"v":1.95},{"d":23.58,"v":1.88},{"d":23.62,"v":1.75},{"d":23.66,"v":1.67},{"d":23.70,"v":1.60},{"d":23.74,"v":1.52},{"d":23.78,"v":1.30},{"d":23.82,"v":1.16},{"d":23.86,"v":1.05},{"d":23.90,"v":0.94},{"d":23.94,"v":0.85},{"d":23.98,"v":0.80},{"d":24.02,"v":0.72},{"d":24.06,"v":0.65},{"d":24.10,"v":0.60},{"d":24.14,"v":0.58},{"d":24.18,"v":0.70},{"d":24.22,"v":0.80},{"d":24.26,"v":0.72},{"d":24.30,"v":0.65},{"d":24.34,"v":0.60},{"d":24.38,"v":0.58},{"d":24.42,"v":0.55},{"d":24.46,"v":0.51},{"d":24.50,"v":0.55},{"d":24.54,"v":0.58},{"d":24.58,"v":0.45},{"d":24.62,"v":0.36},{"d":24.66,"v":0.40},{"d":24.70,"v":0.43},{"d":24.74,"v":0.35},{"d":24.78,"v":0.29},{"d":24.82,"v":0.25},{"d":24.86,"v":0.22},{"d":24.91,"v":0.80},{"d":24.96,"v":1.88},{"d":25.02,"v":2.60},{"d":25.07,"v":2.80},{"d":25.12,"v":2.25},{"d":25.18,"v":1.88},{"d":25.22,"v":1.70},{"d":25.26,"v":1.52},{"d":25.30,"v":1.16},{"d":25.34,"v":1.88},{"d":25.38,"v":1.70},{"d":25.42,"v":1.52},{"d":25.46,"v":1.30},{"d":25.50,"v":1.16},{"d":25.54,"v":1.38},{"d":25.58,"v":1.01},{"d":25.63,"v":0.87},{"d":25.66,"v":1.09},{"d":25.70,"v":0.85},{"d":25.74,"v":0.65},{"d":25.79,"v":1.23},{"d":25.83,"v":1.01},{"d":25.87,"v":0.85},{"d":25.90,"v":0.72},{"d":25.95,"v":1.16},{"d":25.99,"v":0.87},{"d":26.03,"v":0.70},{"d":26.06,"v":0.51},{"d":26.10,"v":0.55},{"d":26.14,"v":0.58},{"d":26.19,"v":0.80},{"d":26.22,"v":0.51},{"d":26.27,"v":0.36},{"d":26.32,"v":0.29},{"d":26.38,"v":0.43},{"d":26.42,"v":0.35},{"d":26.46,"v":0.29},{"d":26.50,"v":0.32},{"d":26.54,"v":0.36},{"d":26.58,"v":0.28},{"d":26.62,"v":0.22},{"d":26.69,"v":0.25},{"d":26.77,"v":0.18},{"d":26.85,"v":0.22},{"d":26.93,"v":0.14},{"d":27.01,"v":0.18},{"d":27.09,"v":0.14},{"d":27.17,"v":0.22},{"d":27.25,"v":0.22},{"d":27.33,"v":0.29},{"d":27.41,"v":0.43},{"d":27.49,"v":0.36},{"d":27.57,"v":0.51},{"d":27.62,"v":0.65},{"d":27.65,"v":0.80},{"d":27.70,"v":null},{"d":27.81,"v":2.25},{"d":27.86,"v":3.70},{"d":27.91,"v":4.06},{"d":27.94,"v":2.97},{"d":27.97,"v":1.52},{"d":28.02,"v":0.80},{"d":28.05,"v":0.36},{"d":28.13,"v":0.22},{"d":28.21,"v":0.29},{"d":28.29,"v":0.36},{"d":28.37,"v":0.43},{"d":28.45,"v":0.58},{"d":28.53,"v":0.65},{"d":28.58,"v":0.80},{"d":28.61,"v":0.87},{"d":28.66,"v":1.10},{"d":28.69,"v":1.23},{"d":28.74,"v":1.40},{"d":28.77,"v":1.52},{"d":28.82,"v":2.03},{"d":28.85,"v":1.70},{"d":28.89,"v":1.45},{"d":28.92,"v":1.30},{"d":28.97,"v":1.67},{"d":29.00,"v":1.74},{"d":29.04,"v":1.45},{"d":29.08,"v":1.16},{"d":29.16,"v":0.94},{"d":29.24,"v":0.80},{"d":29.32,"v":0.58},{"d":29.40,"v":0.43},{"d":29.48,"v":0.36},{"d":29.56,"v":0.29},{"d":29.64,"v":0.25},{"d":29.72,"v":0.22},{"d":29.80,"v":0.29},{"d":29.88,"v":0.22},{"d":29.96,"v":0.36},{"d":30.04,"v":0.29},{"d":30.12,"v":0.36},{"d":30.20,"v":0.43},{"d":30.28,"v":0.51},{"d":30.36,"v":0.58},{"d":30.44,"v":0.62},{"d":30.52,"v":0.65},{"d":30.60,"v":0.70},{"d":30.68,"v":0.72},{"d":30.76,"v":0.87},{"d":30.84,"v":1.01},{"d":30.92,"v":1.16},{"d":31.00,"v":1.30}
    ],
    "plume": [
      {"d": 18.37, "v": 100, "t": "NA-plume:\n20.11. 03:00\n22.11. 06:00"}
    ],
    "span": [
      {"d": 20.125, "d2": 22.25, "v": 83.6}
    ]
  },
  "encoding": {
    "x": {
      "field": "d",
      "type": "quantitative",
      "scale": {"domain": [1, 31], "nice": false, "zero": false},
      "axis": {
        "title": "Day in November 2001",
        "values": [1,2,3,4,5,6,7,8,9,10,11,12,13,14,15,16,17,18,19,20,21,22,23,24,25,26,27,28,29,30,31],
        "labelExpr": "datum.value % 5 === 0 ? datum.label : ''",
        "tickSize": 6,
        "labelPadding": 16,
        "titlePadding": 6
      }
    }
  },
  "layer": [
    {
      "data": {"name": "co"},
      "mark": {"type": "line", "color": "#ff0000", "strokeWidth": 1.8, "clip": true, "invalid": "break-paths-show-domains"},
      "encoding": {
        "y": {
          "field": "v",
          "type": "quantitative",
          "scale": {"domain": [0, 250], "nice": false, "zero": false},
          "axis": {
            "orient": "left",
            "offset": 105,
            "title": "CO [ppbv]",
            "titleColor": "#ff0000",
            "values": [0,10,20,30,40,50,60,70,80,90,100,110,120,130,140,150,160,170,180,190,200,210,220,230,240,250],
            "labelExpr": "datum.value % 50 === 0 ? datum.label : ''",
            "tickSize": {"condition": {"test": "datum.value % 50 === 0", "value": 7}, "value": 4},
            "labelPadding": 3,
            "titlePadding": 13
          }
        }
      }
    },
    {
      "data": {"name": "nox"},
      "mark": {"type": "line", "color": "#00ff00", "strokeWidth": 1.8, "clip": true, "invalid": "break-paths-show-domains"},
      "encoding": {
        "y": {
          "field": "v",
          "type": "quantitative",
          "scale": {"domain": [-0.8, 10], "nice": false, "zero": false},
          "axis": {
            "orient": "right",
            "title": "NOₓ [ppbv],",
            "titleColor": "#00ff00",
            "titleFontSize": 21,
            "titleAngle": 270,
            "titleAlign": "center",
            "titleBaseline": "middle",
            "titleX": 54,
            "titleY": 318,
            "labels": false,
            "ticks": false,
            "domain": false
          }
        }
      }
    },
    {
      "data": {"name": "noy"},
      "mark": {"type": "line", "color": "#0000ff", "strokeWidth": 1.8, "clip": true, "invalid": "break-paths-show-domains"},
      "encoding": {
        "y": {
          "field": "v",
          "type": "quantitative",
          "scale": {"domain": [-0.8, 10], "nice": false, "zero": false},
          "axis": {
            "orient": "right",
            "title": "NOy [ppbv]",
            "titleColor": "#0000ff",
            "titleFontSize": 21,
            "titleAngle": 270,
            "titleAlign": "center",
            "titleBaseline": "middle",
            "titleX": 54,
            "titleY": 178,
            "values": [-0.8,-0.4,0,0.4,0.8,1.2,1.6,2,2.4,2.8,3.2,3.6,4,4.4,4.8,5.2,5.6,6,6.4,6.8,7.2,7.6,8,8.4,8.8,9.2,9.6,10],
            "labelExpr": "datum.value % 2 === 0 ? format(datum.value, 'd') : ''",
            "tickSize": {"condition": {"test": "datum.value % 2 === 0", "value": 7}, "value": 4},
            "labelPadding": 8
          }
        }
      }
    },
    {
      "data": {"name": "o3"},
      "mark": {"type": "line", "color": "#000000", "strokeWidth": 1.8, "clip": true, "invalid": "break-paths-show-domains"},
      "encoding": {
        "y": {
          "field": "v",
          "type": "quantitative",
          "scale": {"domain": [0, 120], "nice": false, "zero": false},
          "axis": {
            "orient": "left",
            "title": "Ozone [ppbv]",
            "values": [0,4,8,12,16,20,24,28,32,36,40,44,48,52,56,60,64,68,72,76,80,84,88,92,96,100,104,108,112,116,120],
            "labelExpr": "datum.value % 20 === 0 ? datum.label : ''",
            "tickSize": {"condition": {"test": "datum.value % 20 === 0", "value": 7}, "value": 4},
            "labelPadding": 7,
            "titlePadding": 9
          }
        }
      }
    },
    {
      "data": {"name": "plume"},
      "mark": {"type": "text", "align": "left", "baseline": "middle", "font": "Liberation Sans", "fontSize": 17.5, "fontWeight": "bold", "color": "black", "lineBreak": "\n", "lineHeight": 20.5},
      "encoding": {
        "y": {"field": "v", "type": "quantitative", "scale": {"domain": [0, 120], "nice": false, "zero": false}, "axis": null},
        "text": {"field": "t"}
      }
    },
    {
      "data": {"name": "span"},
      "mark": {"type": "rule", "color": "#555555", "strokeWidth": 2},
      "encoding": {
        "x2": {"field": "d2"},
        "y": {"field": "v", "type": "quantitative", "scale": {"domain": [0, 120], "nice": false, "zero": false}, "axis": null}
      }
    },
    {
      "data": {"name": "span"},
      "mark": {"type": "point", "shape": "M2,-0.55L0,0L2,0.55", "size": 225, "filled": false, "stroke": "black", "strokeWidth": 1.2, "opacity": 1},
      "encoding": {
        "y": {"field": "v", "type": "quantitative", "scale": {"domain": [0, 120], "nice": false, "zero": false}, "axis": null}
      }
    },
    {
      "data": {"name": "span"},
      "mark": {"type": "point", "shape": "M-2,-0.55L0,0L-2,0.55", "size": 225, "filled": false, "stroke": "black", "strokeWidth": 1.2, "opacity": 1},
      "encoding": {
        "x": {"field": "d2", "type": "quantitative"},
        "y": {"field": "v", "type": "quantitative", "scale": {"domain": [0, 120], "nice": false, "zero": false}, "axis": null}
      }
    }
  ],
  "resolve": {"scale": {"y": "independent"}, "axis": {"y": "independent"}}
}
